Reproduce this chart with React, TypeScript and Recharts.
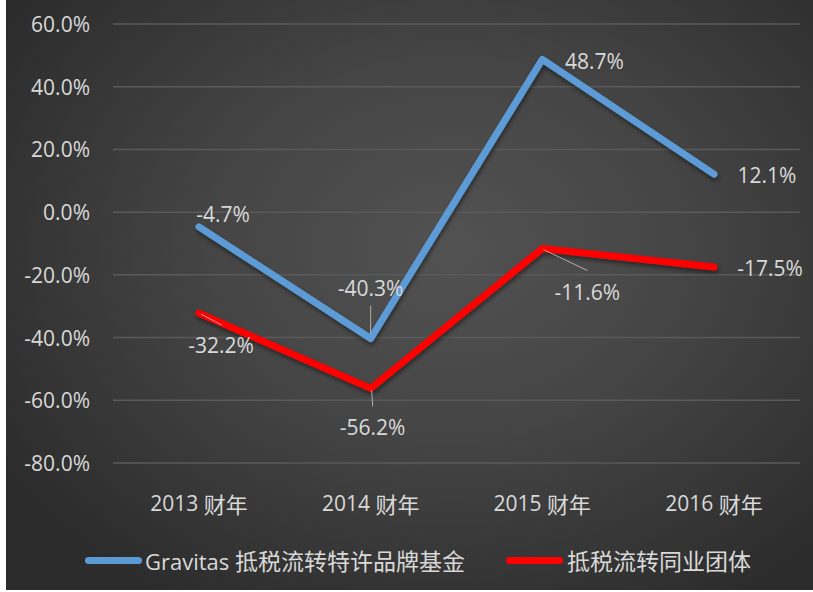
import React from 'react';
import { LineChart, Line, XAxis, YAxis, CartesianGrid, Legend, Customized } from 'recharts';

const categories = ['2013', '2014', '2015', '2016'];
const categorySuffix = '财年';
const gravitasValues = [-4.7, -40.3, 48.7, 12.1];
const peerValues = [-32.2, -56.2, -11.6, -17.5];
const yTicks = [-80, -60, -40, -20, 0, 20, 40, 60];
const seriesNames = ['Gravitas 抵税流转特许品牌基金', '抵税流转同业团体'];

const data = categories.map((c, i) => ({
  name: c,
  gravitas: gravitasValues[i],
  peer: peerValues[i],
}));

const TEXT = '#d9d9d9';
const LATIN = '"Open Sans", "Noto Sans CJK SC", sans-serif';
const CJK = '"Noto Sans CJK SC", sans-serif';
const BLUE = '#5b9bd5';
const RED = '#ff0000';

// label offsets (dx, dy) and leader lines per point
const blueLabelPos = [
  { dx: 24, dy: -13 },
  { dx: 0, dy: -51, leader: [0, -33, 0, -5] },
  { dx: 52, dy: 2 },
  { dx: 53, dy: 1 },
];
const redLabelPos = [
  { dx: 22, dy: 32, leader: [2, 1, 23, 12] },
  { dx: 2, dy: 39, leader: [1, 2, 2, 18] },
  { dx: 45, dy: 43, leader: [1, 1, 45, 22] },
  { dx: 56, dy: 1 },
];

const fmt = (v: number) => `${v.toFixed(1)}%`;

const makeLabel = (pos: any[]) => (props: any) => {
  const { x, y, value, index } = props;
  const p = pos[index];
  return (
    <g>
      {p.leader && (
        <line
          x1={x + p.leader[0]}
          y1={y + p.leader[1]}
          x2={x + p.leader[2]}
          y2={y + p.leader[3]}
          stroke="#c8c8c8"
          strokeOpacity={0.8}
          strokeWidth={1}
        />
      )}
      <text
        x={x + p.dx}
        y={y + p.dy}
        textAnchor="middle"
        dominantBaseline="central"
        fill={TEXT}
        fontFamily={LATIN}
        fontSize={21}
      >
        {fmt(value)}
      </text>
    </g>
  );
};

const XTick = (props: any) => {
  const { x, y, payload } = props;
  return (
    <text x={x} y={y + 32} textAnchor="middle" dominantBaseline="central" fill={TEXT}>
      <tspan fontFamily={LATIN} fontSize={21}>{payload.value} </tspan>
      <tspan fontFamily={CJK} fontSize={22}>{categorySuffix}</tspan>
    </text>
  );
};

const YTick = (props: any) => {
  const { x, y, payload } = props;
  return (
    <text x={x - 23} y={y} textAnchor="end" dominantBaseline="central" fill={TEXT} fontFamily={LATIN} fontSize={21}>
      {`${payload.value.toFixed(1)}%`}
    </text>
  );
};

const LegendContent = () => (
  <div style={{ position: 'relative', width: 813, height: 30 }}>
    <div style={{ position: 'absolute', left: 85, top: 12, width: 57, height: 7, borderRadius: 4, background: BLUE }} />
    <div style={{ position: 'absolute', left: 145, top: 0, height: 30, lineHeight: '30px', color: TEXT, whiteSpace: 'nowrap' }}>
      <span style={{ fontFamily: LATIN, fontSize: 22 }}>Gravitas </span>
      <span style={{ fontFamily: CJK, fontSize: 23 }}>{seriesNames[0].replace('Gravitas ', '')}</span>
    </div>
    <div style={{ position: 'absolute', left: 506, top: 12, width: 57, height: 7, borderRadius: 4, background: RED }} />
    <div style={{ position: 'absolute', left: 567, top: 0, height: 30, lineHeight: '30px', color: TEXT, whiteSpace: 'nowrap' }}>
      <span style={{ fontFamily: CJK, fontSize: 23 }}>{seriesNames[1]}</span>
    </div>
  </div>
);

const ShadowDefs = () => (
  <defs>
    <filter id="lineShadow" x="-10%" y="-10%" width="120%" height="130%">
      <feDropShadow dx="1" dy="3" stdDeviation="2" floodColor="#000" floodOpacity="0.45" />
    </filter>
  </defs>
);

export default function App() {
  return (
    <div style={{ position: 'absolute', left: 0, top: 0, width: 813, height: 592, background: '#ffffff' }}>
      <div
        style={{
          position: 'absolute',
          left: 6,
          top: 0,
          width: 807,
          height: 590,
          background: 'radial-gradient(ellipse 65% 70% at 55% 42%, #525252 0%, #454545 45%, #2c2c2c 100%)',
        }}
      />
      <div style={{ position: 'absolute', left: 0, top: 0 }}>
        <LineChart width={813} height={592} data={data} margin={{ top: 24, right: 13, bottom: 59, left: 23 }}>
          <Customized component={ShadowDefs} />
          <CartesianGrid vertical={false} stroke="#5a5a5a" strokeWidth={1.5} />
          <XAxis
            dataKey="name"
            axisLine={false}
            tickLine={false}
            height={40}
            tick={<XTick />}
            interval={0}
            padding={{ left: 86, right: 86 }}
          />
          <YAxis
            domain={[-80, 60]}
            ticks={yTicks}
            axisLine={false}
            tickLine={false}
            width={90}
            tickSize={0}
            tickMargin={0}
            tick={<YTick />}
            interval={0}
          />
          <Legend verticalAlign="bottom" content={<LegendContent />} wrapperStyle={{ position: 'absolute', left: 0, top: 545, width: 813 }} />
          <Line
            dataKey="gravitas"
            name={seriesNames[0]}
            stroke={BLUE}
            strokeWidth={7}
            strokeLinecap="round"
            strokeLinejoin="round"
            dot={false}
            filter="url(#lineShadow)"
            isAnimationActive={false}
            label={makeLabel(blueLabelPos)}
          />
          <Line
            dataKey="peer"
            name={seriesNames[1]}
            stroke={RED}
            strokeWidth={7}
            strokeLinecap="round"
            strokeLinejoin="round"
            dot={false}
            filter="url(#lineShadow)"
            isAnimationActive={false}
            label={makeLabel(redLabelPos)}
          />
        </LineChart>
      </div>
    </div>
  );
}
